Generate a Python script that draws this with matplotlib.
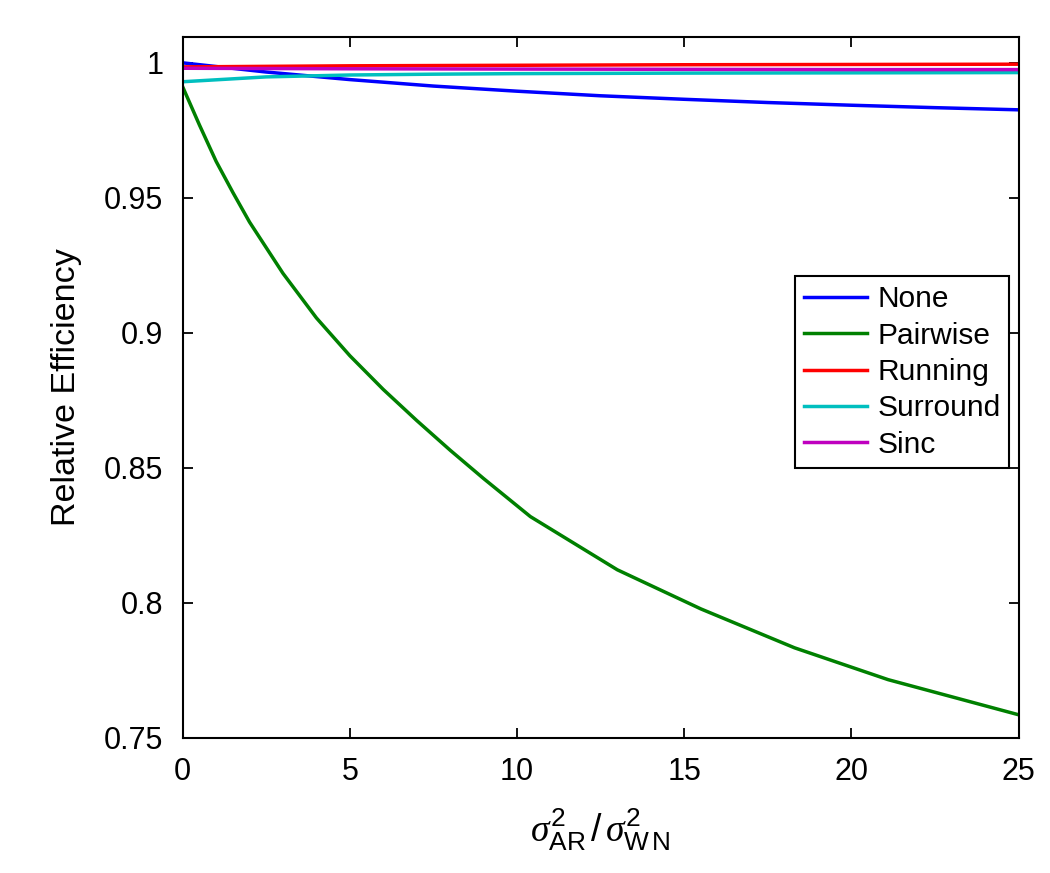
import numpy as np
import matplotlib
matplotlib.use("Agg")
import matplotlib.pyplot as plt

plt.rcParams['font.family'] = ['Liberation Sans', 'DejaVu Sans']
plt.rcParams['mathtext.fontset'] = 'custom'
plt.rcParams['mathtext.rm'] = 'Liberation Sans'
plt.rcParams['mathtext.it'] = 'Liberation Serif:italic'

# ratio sigma_AR^2 / sigma_WN^2
x_none = [0, 2.5, 5, 7.5, 10, 12.5, 15, 17.5, 20, 22.5, 25]
y_none = [1.0, 0.9966, 0.9938, 0.9914, 0.9895, 0.9878, 0.9865, 0.9853, 0.9843, 0.9834, 0.9826]

x_pair = [0, 0.5, 1, 1.5, 2, 3, 4, 5, 6, 7, 8, 9, 10.4, 13.0, 15.5, 18.3, 21.1, 25]
y_pair = [0.9911, 0.977, 0.9635, 0.952, 0.941, 0.922, 0.9055, 0.8915, 0.879, 0.8675,
          0.8565, 0.846, 0.8319, 0.8122, 0.7977, 0.7833, 0.7715, 0.7585]

x_run = [0, 5, 10, 15, 20, 25]
y_run = [0.9985, 0.9989, 0.9991, 0.9993, 0.9994, 0.9995]

x_surr = [0, 2.5, 5, 7.5, 10, 15, 20, 25]
y_surr = [0.9930, 0.9948, 0.9955, 0.9958, 0.9960, 0.9962, 0.9963, 0.9964]

x_sinc = [0, 5, 10, 15, 20, 25]
y_sinc = [0.9980, 0.9978, 0.9977, 0.9976, 0.9975, 0.9975]

fig = plt.figure(figsize=(10.5, 8.73), dpi=100)
ax = fig.add_axes([0.174, 0.155, 0.796, 0.803])

lw = 2.5
ax.plot(x_none, y_none, color=(0, 0, 1), lw=lw, label='None')
ax.plot(x_pair, y_pair, color=(0, 0.5, 0), lw=lw, label='Pairwise')
ax.plot(x_run, y_run, color=(1, 0, 0), lw=lw, label='Running')
ax.plot(x_surr, y_surr, color=(0, 0.75, 0.75), lw=lw, label='Surround')
ax.plot(x_sinc, y_sinc, color=(0.75, 0, 0.75), lw=lw, label='Sinc')

ax.set_xlim(0, 25)
ax.set_ylim(0.75, 1.0097)
ax.set_xticks([0, 5, 10, 15, 20, 25])
ax.set_yticks([0.75, 0.8, 0.85, 0.9, 0.95, 1.0])
ax.set_yticklabels(['0.75', '0.8', '0.85', '0.9', '0.95', '1'])
ax.tick_params(direction='in', length=7, width=1.3, labelsize=22,
               top=True, right=True)
ax.tick_params(axis='x', pad=14)
ax.tick_params(axis='y', pad=14)
for s in ax.spines.values():
    s.set_linewidth(1.5)

ax.set_ylabel('Relative Efficiency', fontsize=24.5, labelpad=16)
ax.set_xlabel(r'$\sigma^2_{\mathrm{AR}}\,/\,\sigma^2_{\mathrm{W\,N}}$', fontsize=27, labelpad=14)

leg = ax.legend(loc='upper right', bbox_to_anchor=(0.989, 0.658), fontsize=21.5,
                fancybox=False, edgecolor='black', framealpha=1,
                handlelength=2.1, handletextpad=0.35, labelspacing=0.28,
                borderpad=0.3, borderaxespad=0)
leg.get_frame().set_linewidth(1.5)

fig.savefig('out.png', dpi=100)
